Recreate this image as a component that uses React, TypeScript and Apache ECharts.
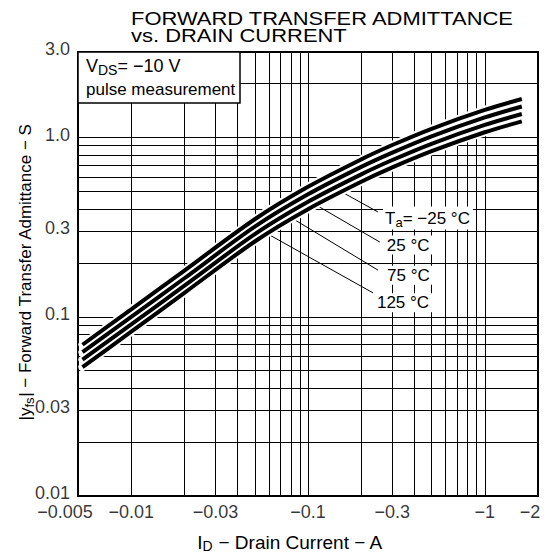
import React, { useEffect, useRef } from 'react';
import * as echarts from 'echarts';

const FONT = '"Liberation Sans", Arial, Helvetica, sans-serif';

// Drain current magnitude (A) and forward transfer admittance (S)
const drainCurrent = [0.0053, 0.01, 0.02, 0.05, 0.1, 0.2, 0.3, 0.5, 1.0, 1.62];
const yfsTaM25 = [0.0698, 0.110, 0.181, 0.35, 0.531, 0.755, 0.908, 1.119, 1.426, 1.64];
const yfsTa25 = [0.0634, 0.0999, 0.164, 0.318, 0.482, 0.686, 0.824, 1.016, 1.295, 1.49];
const yfsTa75 = [0.0576, 0.0908, 0.149, 0.289, 0.438, 0.623, 0.749, 0.923, 1.176, 1.353];
const yfsTa125 = [0.0524, 0.0825, 0.136, 0.263, 0.398, 0.566, 0.681, 0.839, 1.07, 1.23];

const curveLabels = ['{n|T}{s|a}{n|= −25 °C}', '{n|25 °C}', '{n|75 °C}', '{n|125 °C}'];
const leaderStartCurrent = [0.249, 0.255, 0.249, 0.233];
const leaderStartYfs = [0.384, 0.261, 0.182, 0.136];
const leaderEndCurrent = [0.138, 0.105, 0.0771, 0.0556];
const leaderEndYfs = [0.53, 0.434, 0.366, 0.30];

const xGridValues = [0.006, 0.007, 0.008, 0.009, 0.01, 0.02, 0.03, 0.04, 0.05, 0.06, 0.07, 0.08, 0.09, 0.1, 0.2, 0.3, 0.4, 0.5, 0.6, 0.7, 0.8, 0.9, 1];
const yGridValues = [0.02, 0.03, 0.04, 0.05, 0.06, 0.07, 0.08, 0.09, 0.1, 0.2, 0.3, 0.4, 0.5, 0.6, 0.7, 0.8, 0.9, 1, 2];
const xTickValues = [0.005, 0.01, 0.03, 0.1, 0.3, 1, 2];
const xTickLabels = ['−0.005', '−0.01', '−0.03', '−0.1', '−0.3', '−1', '−2'];
const yTickValues = [0.01, 0.03, 0.1, 0.3, 1, 3];
const yTickLabels = ['0.01', '0.03', '0.1', '0.3', '1.0', '3.0'];

const X_MIN = 0.005;
const X_MAX = 2;
const Y_MIN = 0.01;
const Y_MAX = 3;

const curves = [yfsTaM25, yfsTa25, yfsTa75, yfsTa125];
const labelOffsets = [[3, 6], [3, 3], [5, 5], [0, 10]];

export default function App() {
  const ref = useRef<HTMLDivElement>(null);

  useEffect(() => {
    if (!ref.current) return;
    const chart = echarts.init(ref.current, undefined, { renderer: 'svg' });

    const rich = {
      n: { fontSize: 17, fontFamily: FONT, color: '#000' },
      s: { fontSize: 13, fontFamily: FONT, color: '#000', padding: [8, 0, 0, 0] },
    };

    const series: any[] = [];

    // grid lines + tick labels (x)
    series.push({
      type: 'scatter',
      name: 'xticks',
      z: 1,
      clip: false,
      symbolSize: 0,
      silent: true,
      data: xTickValues.map((v, i) => ({
        value: [v, Y_MIN],
        name: xTickLabels[i],
        label: {
          offset: i === 0 ? [-13, 0] : i === xTickValues.length - 1 ? [-8, 0] : [0, 0],
        },
      })),
      label: {
        show: true,
        position: 'bottom',
        distance: 7,
        formatter: '{b}',
        fontSize: 18,
        fontFamily: FONT,
        color: '#000',
      },
      markLine: {
        silent: true,
        z: 1,
        symbol: ['none', 'none'],
        label: { show: false },
        lineStyle: { color: '#000', width: 1, type: 'solid' },
        emphasis: { disabled: true },
        data: [
          ...xGridValues.map((v) => ({ xAxis: v })),
          ...yGridValues.map((v) => ({ yAxis: v })),
        ],
      },
    });
    series.push({
      type: 'scatter',
      name: 'yticks',
      z: 1,
      clip: false,
      symbolSize: 0,
      silent: true,
      data: yTickValues.map((v, i) => ({ value: [X_MIN, v], name: yTickLabels[i] })),
      label: {
        show: true,
        position: 'left',
        distance: 8,
        offset: [0, -3],
        formatter: '{b}',
        fontSize: 18,
        fontFamily: FONT,
        color: '#000',
      },
    });

    // leader lines with labels
    curves.forEach((_, i) => {
      series.push({
        type: 'line',
        z: 2,
        silent: true,
        symbol: 'circle',
        symbolSize: 0,
        showSymbol: true,
        clip: false,
        lineStyle: { color: '#000', width: 1 },
        itemStyle: { color: '#000' },
        data: [
          {
            value: [leaderStartCurrent[i], leaderStartYfs[i]],
            label: {
              show: true,
              position: 'right',
              distance: 2,
              offset: labelOffsets[i],
              formatter: curveLabels[i],
              rich,
              backgroundColor: '#fff',
              padding: [1, 3, 1, 2],
            },
          },
          { value: [leaderEndCurrent[i], leaderEndYfs[i]], label: { show: false } },
        ],
      });
    });

    // white underlays
    curves.forEach((arr) => {
      series.push({
        type: 'line',
        z: 3,
        silent: true,
        symbol: 'none',
        smooth: 0.3,
        lineStyle: { color: '#fff', width: 8, cap: 'round' },
        data: drainCurrent.map((c, j) => [c, arr[j]]),
      });
    });
    // black curves
    curves.forEach((arr) => {
      series.push({
        type: 'line',
        z: 4,
        silent: true,
        symbol: 'none',
        smooth: 0.3,
        lineStyle: { color: '#000', width: 4 },
        data: drainCurrent.map((c, j) => [c, arr[j]]),
      });
    });

    chart.setOption({
      animation: false,
      backgroundColor: '#fff',
      grid: {
        left: 78,
        right: 8,
        top: 52,
        bottom: 61,
        show: true,
        borderColor: '#000',
        borderWidth: 2,
        backgroundColor: 'transparent',
      },
      xAxis: {
        type: 'log',
        logBase: 10,
        min: X_MIN,
        max: X_MAX,
        axisLine: { show: false },
        axisTick: { show: false },
        axisLabel: { show: false },
        splitLine: { show: false },
      },
      yAxis: {
        type: 'log',
        logBase: 10,
        min: Y_MIN,
        max: Y_MAX,
        axisLine: { show: false },
        axisTick: { show: false },
        axisLabel: { show: false },
        splitLine: { show: false },
      },
      series,
      graphic: [
        {
          type: 'text',
          x: 131,
          y: 10,
          scaleX: 1.22,
          z: 100,
          style: { text: 'FORWARD TRANSFER ADMITTANCE', fontSize: 18, fontFamily: FONT, fill: '#000' },
        },
        {
          type: 'text',
          x: 131,
          y: 27,
          scaleX: 1.22,
          z: 100,
          style: { text: 'vs. DRAIN CURRENT', fontSize: 18, fontFamily: FONT, fill: '#000' },
        },
        {
          type: 'rect',
          z: 100,
          shape: { x: 78, y: 52, width: 162, height: 51 },
          style: { fill: '#fff', stroke: '#000', lineWidth: 1.5 },
        },
        {
          type: 'text',
          x: 86,
          y: 55,
          z: 101,
          style: {
            text: '{n|V}{s|DS}{n|= −10 V}',
            rich: {
              n: { fontSize: 18, fontFamily: FONT, color: '#000' },
              s: { fontSize: 14, fontFamily: FONT, color: '#000', padding: [8, 0, 0, 0] },
            },
            fill: '#000',
          },
        },
        {
          type: 'text',
          x: 86,
          y: 81,
          z: 101,
          style: { text: 'pulse measurement', fontSize: 17, fontFamily: FONT, fill: '#000' },
        },
        {
          type: 'text',
          x: 290,
          y: 542,
          z: 100,
          style: {
            text: '{n|I}{s|D}{n| − Drain Current − A}',
            rich: {
              n: { fontSize: 19, fontFamily: FONT, color: '#000' },
              s: { fontSize: 14, fontFamily: FONT, color: '#000', padding: [8, 0, 0, 0] },
            },
            align: 'center',
            verticalAlign: 'middle',
          },
        },
        {
          type: 'text',
          x: 25,
          y: 272,
          rotation: Math.PI / 2,
          z: 100,
          style: {
            text: '{n||y}{s|fs}{n|| − Forward Transfer Admittance − S}',
            rich: {
              n: { fontSize: 17, fontFamily: FONT, color: '#000' },
              s: { fontSize: 13, fontFamily: FONT, color: '#000', padding: [8, 0, 0, 0] },
            },
            align: 'center',
            verticalAlign: 'middle',
          },
        },
      ],
    });

    return () => chart.dispose();
  }, []);

  return <div ref={ref} style={{ width: 546, height: 557, position: 'absolute', left: 0, top: 0 }} />;
}
